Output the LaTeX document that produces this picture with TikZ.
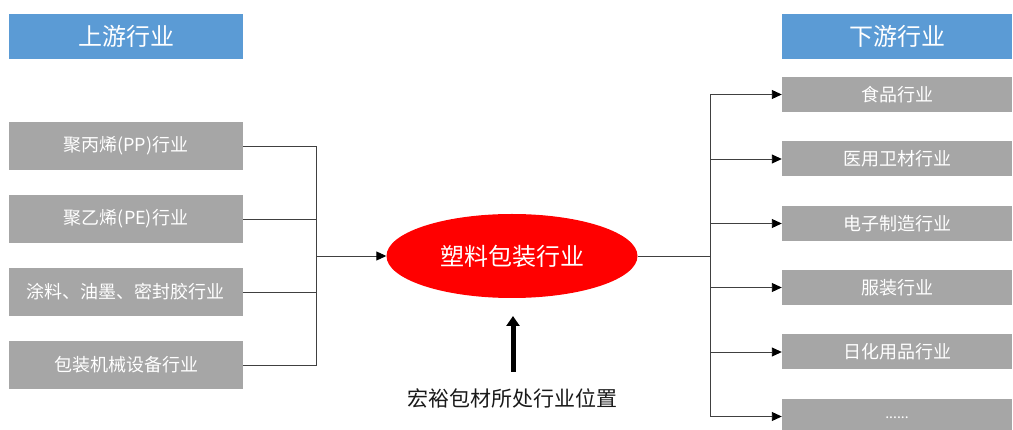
\documentclass[tikz,border=0pt]{standalone}
\usepackage{fontspec}
\setmainfont{Noto Sans CJK SC}
\usetikzlibrary{arrows.meta,shapes.geometric}
\definecolor{hdrblue}{HTML}{5B9BD5}
\definecolor{boxgray}{HTML}{A6A6A6}
\definecolor{linegray}{HTML}{404040}
\begin{document}
\begin{tikzpicture}[x=1pt,y=-1pt,
  hdr/.style={fill=hdrblue,text=white,inner sep=0,minimum height=45pt,font=\fontsize{24}{28}\selectfont},
  lbox/.style={fill=boxgray,text=white,inner sep=0,minimum width=234pt,minimum height=48pt,font=\fontsize{18}{22}\selectfont},
  rbox/.style={fill=boxgray,text=white,inner sep=0,minimum width=230pt,minimum height=35pt,font=\fontsize{18}{22}\selectfont},
  conn/.style={draw=linegray,line width=0.9pt},
  arr/.style={conn,-{Triangle[length=10pt,width=9pt,color=black]}}]
\useasboundingbox (0,0) rectangle (1013,430);
\node[hdr,minimum width=234pt] (HL) at (126,36.5) {上游行业};
\node[hdr,minimum width=230pt] (HR) at (897,36.5) {下游行业};
\node[lbox] (L1) at (126,146) {聚丙烯(PP)行业};
\node[lbox] (L2) at (126,219) {聚乙烯(PE)行业};
\node[lbox] (L3) at (126,292) {涂料、油墨、密封胶行业};
\node[lbox] (L4) at (126,365) {包装机械设备行业};
\node[ellipse,fill=red,text=white,inner sep=0,minimum width=251pt,minimum height=84pt,font=\fontsize{24}{28}\selectfont] (E) at (512,256) {塑料包装行业};
\node[rbox] (R1) at (897,94.5) {食品行业};
\node[rbox] (R2) at (897,159) {医用卫材行业};
\node[rbox] (R3) at (897,223.5) {电子制造行业};
\node[rbox] (R4) at (897,287.5) {服装行业};
\node[rbox] (R5) at (897,352) {日化用品行业};
\node[rbox] (R6) at (897,416.5) {\raisebox{-5pt}{\fontsize{14}{16}\selectfont ......}};
\node[font=\fontsize{21}{25}\selectfont,text=black!90] (T) at (512,398) {宏裕包材所处行业位置};
\coordinate (jl) at (316,256);
\coordinate (jr) at (710,256);
\coordinate (ab) at (513,372);
\coordinate (at) at (513,316);
\draw[conn] (L1.east) -| (jl);
\draw[conn] (L2.east) -| (jl);
\draw[conn] (L3.east) -| (jl);
\draw[conn] (L4.east) -| (jl);
\draw[arr] (jl) -- (E.west);
\draw[conn] (E.east) -- (jr);
\draw[arr] (jr) |- (R1.west);
\draw[arr] (jr) |- (R2.west);
\draw[arr] (jr) |- (R3.west);
\draw[arr] (jr) |- (R4.west);
\draw[arr] (jr) |- (R5.west);
\draw[arr] (jr) |- (R6.west);
\draw[line width=5pt,-{Triangle[length=10pt,width=13pt]}] (ab) -- (at);
\end{tikzpicture}
\end{document}
